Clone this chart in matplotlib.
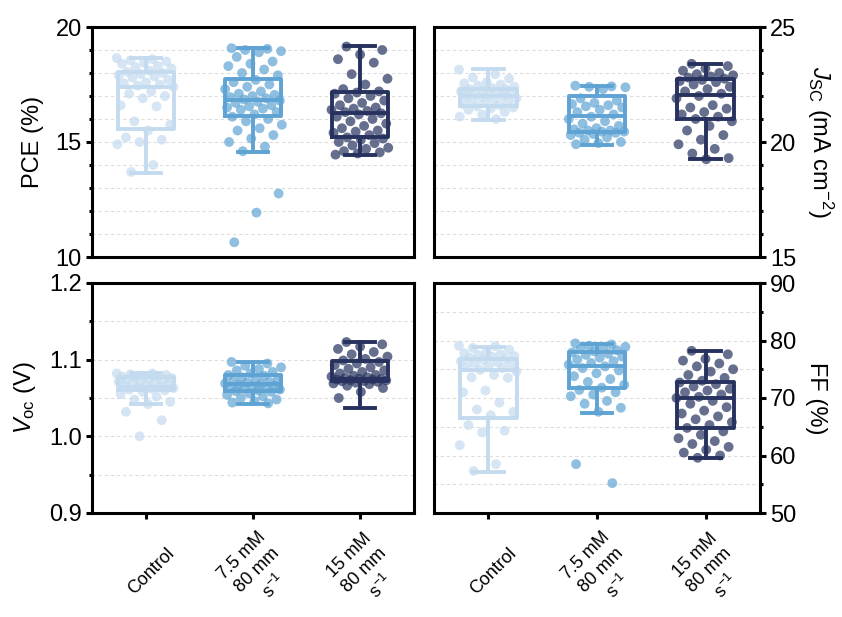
import numpy as np
import matplotlib
matplotlib.use("Agg")
import matplotlib.pyplot as plt
from matplotlib.ticker import MultipleLocator
from matplotlib.transforms import ScaledTranslation

plt.rcParams['font.family'] = ['Liberation Sans', 'DejaVu Sans']
plt.rcParams['mathtext.fontset'] = 'custom'
plt.rcParams['mathtext.rm'] = 'Liberation Sans'
plt.rcParams['mathtext.it'] = 'Liberation Sans:italic'

# ---- categories and colours ----
groups = ['Control', '7.5 mM\n80 mm\ns$^{-1}$', '15 mM\n80 mm\ns$^{-1}$']
colors = ['#c4dbef', '#5ea3d3', '#27325f']

# ---- device data (each list = one batch of cells) ----
pce_control = [18.65, 18.6, 18.55, 18.5, 18.45, 18.4, 18.3, 18.25, 18.2, 18.1, 18.05, 18.0,
               17.95, 17.9, 17.85, 17.8, 17.7, 17.6, 17.55, 17.5, 17.45, 17.4, 17.2, 17.1,
               17.0, 16.9, 16.6, 16.55, 15.9, 15.75, 15.5, 15.2, 15.1, 15.0, 14.9, 14.0, 13.7]
pce_75 = [19.08, 19.05, 19.0, 18.95, 18.9, 18.7, 18.5, 18.4, 18.3, 18.15, 18.0, 17.9, 17.7,
          17.6, 17.5, 17.4, 17.3, 17.2, 17.1, 17.05, 17.0, 16.95, 16.9, 16.85, 16.8, 16.75,
          16.7, 16.6, 16.55, 16.5, 16.45, 16.4, 16.3, 16.2, 16.1, 16.0, 15.9, 15.75, 15.6,
          15.5, 15.3, 15.15, 15.0, 14.8, 14.6, 12.76, 11.93, 10.64]
pce_15 = [19.15, 19.0, 18.8, 18.6, 18.45, 17.95, 17.75, 17.5, 17.3, 17.2, 17.15, 17.1, 17.0,
          16.9, 16.8, 16.7, 16.6, 16.5, 16.45, 16.4, 16.35, 16.3, 16.25, 16.2, 16.1, 16.0,
          15.9, 15.8, 15.7, 15.6, 15.5, 15.45, 15.4, 15.3, 15.2, 15.15, 15.1, 15.0, 14.95,
          14.85, 14.75, 14.7, 14.6, 14.55, 14.5, 14.45]

jsc_control = [23.15, 22.95, 22.8, 22.75, 22.6, 22.55, 22.5, 22.45, 22.4, 22.35, 22.3, 22.3,
               22.25, 22.2, 22.15, 22.1, 22.1, 22.05, 22.0, 22.0, 21.95, 21.9, 21.85, 21.8,
               21.75, 21.7, 21.65, 21.6, 21.55, 21.5, 21.45, 21.4, 21.3, 21.2, 21.1, 21.0]
jsc_75 = [22.45, 22.42, 22.4, 22.38, 22.3, 21.9, 21.8, 21.7, 21.65, 21.6, 21.55, 21.5, 21.4,
          21.3, 21.2, 21.1, 21.0, 20.9, 20.8, 20.7, 20.6, 20.55, 20.5, 20.5, 20.45, 20.45,
          20.4, 20.4, 20.35, 20.3, 20.2, 20.1, 20.0, 19.95, 19.9]
jsc_15 = [23.4, 23.3, 23.2, 23.1, 23.0, 22.95, 22.9, 22.85, 22.8, 22.75, 22.7, 22.65, 22.6,
          22.5, 22.4, 22.3, 22.2, 22.1, 22.0, 21.9, 21.6, 21.5, 21.45, 21.3, 21.2, 21.1, 21.0,
          20.9, 20.7, 20.5, 20.3, 20.1, 19.9, 19.7, 19.5, 19.3, 19.25]

voc_control = [1.082, 1.082, 1.081, 1.08, 1.079, 1.078, 1.078, 1.077, 1.076, 1.075, 1.074,
               1.073, 1.072, 1.071, 1.07, 1.069, 1.068, 1.067, 1.066, 1.065, 1.064, 1.063,
               1.062, 1.061, 1.06, 1.058, 1.055, 1.052, 1.048, 1.045, 1.042, 1.032, 1.021, 1.0]
voc_75 = [1.097, 1.095, 1.092, 1.09, 1.088, 1.086, 1.084, 1.082, 1.08, 1.079, 1.077, 1.075,
          1.074, 1.072, 1.071, 1.07, 1.069, 1.068, 1.067, 1.066, 1.065, 1.064, 1.063, 1.062,
          1.061, 1.06, 1.059, 1.058, 1.056, 1.054, 1.052, 1.05, 1.048, 1.046, 1.044, 1.043]
voc_15 = [1.123, 1.12, 1.117, 1.114, 1.11, 1.107, 1.104, 1.101, 1.099, 1.097, 1.095, 1.093,
          1.09, 1.088, 1.086, 1.084, 1.082, 1.08, 1.079, 1.078, 1.077, 1.076, 1.075, 1.075,
          1.074, 1.074, 1.073, 1.073, 1.072, 1.072, 1.071, 1.07, 1.069, 1.068, 1.066, 1.063,
          1.058, 1.05]

ff_control = [79.1, 79.0, 78.7, 78.4, 78.0, 77.8, 77.6, 77.5, 77.3, 77.2, 77.0, 76.8, 76.6,
              76.4, 76.2, 76.0, 75.8, 75.6, 75.4, 75.2, 74.9, 74.6, 74.0, 73.6, 73.5, 71.3,
              71.0, 69.2, 68.0, 67.6, 67.0, 65.3, 64.3, 64.0, 61.8, 58.5, 57.3]
ff_75 = [79.5, 79.3, 79.1, 78.9, 78.7, 78.5, 78.3, 78.1, 77.9, 77.7, 77.5, 77.2, 77.0, 76.7,
         76.4, 76.1, 75.8, 75.5, 75.2, 74.8, 74.3, 73.8, 73.3, 72.8, 72.3, 71.8, 71.4, 71.0,
         70.6, 70.3, 69.5, 69.0, 68.3, 67.6, 58.5, 55.2]
ff_15 = [78.2, 77.6, 76.8, 76.5, 76.0, 75.5, 75.0, 74.6, 74.0, 73.5, 73.0, 72.7, 72.4, 72.0,
         71.6, 71.3, 71.0, 70.6, 70.2, 70.0, 69.5, 69.0, 68.4, 67.8, 67.3, 66.8, 66.3, 65.8,
         65.3, 64.8, 64.2, 63.6, 63.0, 62.5, 62.0, 61.5, 61.0, 60.5, 60.0, 59.6]

# ---- box statistics: (whisker low, Q1, median, Q3, whisker high) ----
pce_box = [(13.64, 15.56, 17.40, 18.06, 18.64),
           (14.55, 16.15, 16.84, 17.76, 19.09),
           (14.43, 15.21, 16.28, 17.18, 19.17)]
jsc_box = [(20.95, 21.55, 22.00, 22.31, 23.18),
           (19.86, 20.44, 21.13, 22.00, 22.45),
           (19.25, 21.00, 22.03, 22.74, 23.39)]
voc_box = [(1.042, 1.061, 1.0645, 1.0773, 1.082),
           (1.0425, 1.059, 1.0687, 1.0795, 1.097),
           (1.037, 1.072, 1.075, 1.098, 1.123)]
ff_box = [(57.2, 66.5, 74.9, 76.7, 78.9),
          (67.4, 71.7, 75.6, 78.0, 79.4),
          (59.6, 64.8, 70.05, 72.8, 78.2)]

panels = [
    dict(data=[pce_control, pce_75, pce_15], box=pce_box, ylim=(10, 20), major=5, minor=1,
         label='PCE (%)', side='left', fmt='{:.0f}'),
    dict(data=[jsc_control, jsc_75, jsc_15], box=jsc_box, ylim=(15, 25), major=5, minor=1,
         label=r'$J_{\mathrm{SC}}$ (mA cm$^{-2}$)', side='right', fmt='{:.0f}'),
    dict(data=[voc_control, voc_75, voc_15], box=voc_box, ylim=(0.9, 1.2), major=0.1, minor=0.05,
         label=r'$V_{\mathrm{oc}}$ (V)', side='left', fmt='{:.1f}'),
    dict(data=[ff_control, ff_75, ff_15], box=ff_box, ylim=(50, 90), major=10, minor=5,
         label='FF (%)', side='right', fmt='{:.0f}'),
]

W, H = 842, 617
fig = plt.figure(figsize=(W / 100, H / 100), dpi=100)
rects = [(92, 27, 414, 257), (434, 27, 760, 257), (92, 283, 414, 513), (434, 283, 760, 513)]

positions = np.arange(1, len(groups) + 1)
box_w = 0.52
lw = 2.2
box_lw = 2.8

for i, (p, (x0, y0, x1, y1)) in enumerate(zip(panels, rects)):
    ax = fig.add_axes([x0 / W, 1 - y1 / H, (x1 - x0) / W, (y1 - y0) / H])
    stats = [dict(whislo=b[0], q1=b[1], med=b[2], q3=b[3], whishi=b[4], fliers=[])
             for b in p['box']]
    for k, (st, c) in enumerate(zip(stats, colors)):
        ax.bxp([st], positions=[positions[k]], widths=box_w, showfliers=False,
               capwidths=0.28, patch_artist=False,
               boxprops=dict(color=c, lw=box_lw),
               medianprops=dict(color=c, lw=box_lw),
               whiskerprops=dict(color=c, lw=box_lw),
               capprops=dict(color=c, lw=box_lw), zorder=2)
        vals = np.asarray(p['data'][k])
        n = len(vals)
        offs = ((np.arange(n) * 0.6180339887 + 0.13 * k) % 1.0 - 0.5) * 0.54
        ax.scatter(positions[k] + offs, vals, s=50, color=c, alpha=0.7,
                   edgecolors='none', zorder=3)

    ax.set_xlim(0.5, 3.5)
    ax.set_ylim(*p['ylim'])
    ax.yaxis.set_major_locator(MultipleLocator(p['major']))
    ax.yaxis.set_minor_locator(MultipleLocator(p['minor']))
    ax.yaxis.set_major_formatter(plt.FuncFormatter(lambda v, _, f=p['fmt']: f.format(v)))
    ax.grid(which='both', axis='y', ls=(0, (3, 2.5)), color='#dddddd', lw=0.8, zorder=0)
    ax.set_axisbelow(True)
    for s in ax.spines.values():
        s.set_linewidth(lw)
    ax.tick_params(axis='y', which='major', direction='out', length=4.3, width=lw,
                   labelsize=17, pad=3)
    ax.tick_params(axis='y', which='minor', direction='out', length=2.5, width=lw)
    if p['side'] == 'right':
        ax.yaxis.tick_right()
        ax.yaxis.set_label_position('right')
        ax.set_ylabel(p['label'], fontsize=17, rotation=270, va='bottom', labelpad=6)
    else:
        ax.set_ylabel(p['label'], fontsize=17, labelpad=8)

    if i < 2:
        ax.tick_params(axis='x', bottom=False, labelbottom=False)
    else:
        ax.set_xticks(positions)
        ax.set_xticklabels(groups, rotation=45, ha='center', va='center',
                           multialignment='center', fontsize=13, linespacing=1.3)
        ax.tick_params(axis='x', direction='out', length=4.3, width=lw, pad=38)
        shift = ScaledTranslation(4 / 72, 0, fig.dpi_scale_trans)
        for t in ax.get_xticklabels():
            t.set_transform(t.get_transform() + shift)

fig.savefig('out.png', dpi=100)
